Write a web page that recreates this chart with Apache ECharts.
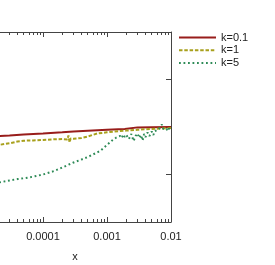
<!DOCTYPE html>
<html>
<head>
<meta charset="utf-8">
<script src="https://cdn.jsdelivr.net/npm/echarts@6/dist/echarts.min.js"></script>
<style>
html,body{margin:0;padding:0;background:#fff;}
#chart{width:275px;height:265px;}
</style>
</head>
<body>
<div id="chart"></div>
<script>
// ---- data ----
var seriesNames = ['k=0.1', 'k=1', 'k=5'];
var seriesColors = ['#981d1b', '#a8a01c', '#2e8b57'];

var k01X = [1.5e-5, 2e-5, 3e-5, 5e-5, 1e-4, 2e-4, 3e-4, 5e-4, 1e-3, 1.5e-3, 1.9e-3, 2e-3, 3e-3, 5e-3, 1e-2];
var k01Y = [1.789, 1.808, 1.821, 1.842, 1.863, 1.888, 1.903, 1.920, 1.943, 1.954, 1.958, 1.989, 1.992, 1.996, 2.0];

var k1X = [1.5e-5, 2e-5, 3e-5, 4e-5, 5e-5, 7e-5, 1e-4, 1.5e-4, 2e-4, 2.4e-4, 2.5e-4, 2.6e-4, 2.7e-4, 3e-4, 4e-4, 5e-4, 7e-4, 1e-3, 1.5e-3, 2e-3, 3e-3, 5e-3, 1e-2];
var k1Y = [1.589, 1.621, 1.657, 1.695, 1.712, 1.716, 1.726, 1.741, 1.747, 1.737, 1.821, 1.674, 1.758, 1.752, 1.768, 1.800, 1.863, 1.888, 1.912, 1.924, 1.941, 1.960, 1.979];

var k5X = [1.5e-5, 2e-5, 3e-5, 4e-5, 5e-5, 7e-5, 1e-4, 1.5e-4, 2e-4, 3e-4, 4e-4, 5e-4, 7e-4, 8e-4, 1e-3, 1.2e-3,
  1.3e-3, 1.4e-3, 1.5e-3, 1.6e-3, 1.7e-3, 1.8e-3, 1.9e-3, 2.0e-3, 2.2e-3, 2.4e-3, 2.6e-3, 2.8e-3, 3.0e-3, 3.2e-3,
  3.4e-3, 3.6e-3, 3.8e-3, 4.0e-3, 4.3e-3, 4.6e-3, 5.0e-3, 5.3e-3, 5.6e-3, 6.0e-3, 6.4e-3, 6.8e-3, 7.2e-3, 7.6e-3,
  8.0e-3, 8.5e-3, 9.0e-3, 9.5e-3, 1.0e-2];
var k5Y = [0.800, 0.829, 0.874, 0.905, 0.920, 0.954, 1.000, 1.074, 1.147, 1.253, 1.316, 1.368, 1.463, 1.505, 1.621, 1.716,
  1.747, 1.779, 1.737, 1.811, 1.768, 1.842, 1.789, 1.832, 1.747, 1.853, 1.705, 1.811, 1.863, 1.768,
  1.832, 1.716, 1.853, 1.789, 1.884, 1.811, 1.905, 1.832, 1.916, 1.874, 1.947, 1.916, 2.053, 1.958,
  1.989, 1.937, 2.000, 1.947, 1.968];

var xMajorTicks = [1e-5, 1e-4, 1e-3, 1e-2];
var xTickLabels = ['1e-05', '0.0001', '0.001', '0.01'];
var xMinorTicks = [2e-5, 3e-5, 4e-5, 5e-5, 6e-5, 7e-5, 8e-5, 9e-5,
  2e-4, 3e-4, 4e-4, 5e-4, 6e-4, 7e-4, 8e-4, 9e-4,
  2e-3, 3e-3, 4e-3, 5e-3, 6e-3, 7e-3, 8e-3, 9e-3];
var yMajorTicks = [1, 3];

function pairs(xs, ys) { return xs.map(function (x, i) { return [x, ys[i]]; }); }

var FONT = 'Liberation Sans, Arial, sans-serif';
var axisColor = '#444';

function xAxisDef(pos, ticks, len, withLine, withLabel) {
  return {
    type: 'log', logBase: 10, min: 1e-5, max: 1e-2, position: pos,
    axisLine: { show: withLine, lineStyle: { color: axisColor, width: 1 } },
    axisTick: { show: true, inside: true, length: len, customValues: ticks, lineStyle: { color: axisColor, width: 1 } },
    axisLabel: withLabel ? {
      show: true, customValues: xMajorTicks, margin: 9, fontSize: 11, fontFamily: FONT, color: '#222',
      formatter: function (v) {
        var i = xMajorTicks.findIndex(function (t) { return Math.abs(Math.log10(t) - Math.log10(v)) < 1e-6; });
        return i >= 0 ? xTickLabels[i] : '';
      }
    } : { show: false },
    splitLine: { show: false },
    minorTick: { show: false },
    name: withLabel ? 'x' : '',
    nameLocation: 'middle', nameGap: 29,
    nameTextStyle: { fontSize: 11, fontFamily: FONT, color: '#222' }
  };
}

var chart = echarts.init(document.getElementById('chart'), null, { renderer: 'canvas' });
chart.setOption({
  animation: false,
  backgroundColor: '#fff',
  grid: { left: -21, right: 104, top: 32, bottom: 43, containLabel: false, outerBoundsMode: 'none' },
  legend: {
    orient: 'vertical', left: 178, top: 32, padding: 0,
    itemWidth: 37, itemHeight: 11, itemGap: 1.7,
    itemStyle: { opacity: 0 },
    textStyle: { fontSize: 11, fontFamily: FONT, color: '#222' },
    data: seriesNames
  },
  xAxis: [
    xAxisDef('bottom', xMajorTicks, 5, true, true),
    xAxisDef('bottom', xMinorTicks, 3, false, false),
    xAxisDef('top', xMajorTicks, 5, true, false),
    xAxisDef('top', xMinorTicks, 3, false, false)
  ],
  yAxis: [
    { type: 'value', min: 0, max: 4, position: 'left',
      axisLine: { show: true, lineStyle: { color: axisColor } },
      axisTick: { show: true, inside: true, length: 5, customValues: yMajorTicks, lineStyle: { color: axisColor } },
      axisLabel: { show: false }, splitLine: { show: false } },
    { type: 'value', min: 0, max: 4, position: 'right',
      axisLine: { show: true, lineStyle: { color: axisColor } },
      axisTick: { show: true, inside: true, length: 5, customValues: yMajorTicks, lineStyle: { color: axisColor } },
      axisLabel: { show: false }, splitLine: { show: false } }
  ],
  series: [
    { name: seriesNames[0], type: 'line', symbol: 'none', data: pairs(k01X, k01Y), color: seriesColors[0],
      lineStyle: { width: 2, color: seriesColors[0], type: 'solid' } },
    { name: seriesNames[1], type: 'line', symbol: 'none', data: pairs(k1X, k1Y), color: seriesColors[1],
      lineStyle: { width: 2, color: seriesColors[1], type: [3.5, 1.8] } },
    { name: seriesNames[2], type: 'line', symbol: 'none', data: pairs(k5X, k5Y), color: seriesColors[2],
      lineStyle: { width: 2, color: seriesColors[2], type: [1.8, 2.7] } }
  ]
});
</script>
</body>
</html>
